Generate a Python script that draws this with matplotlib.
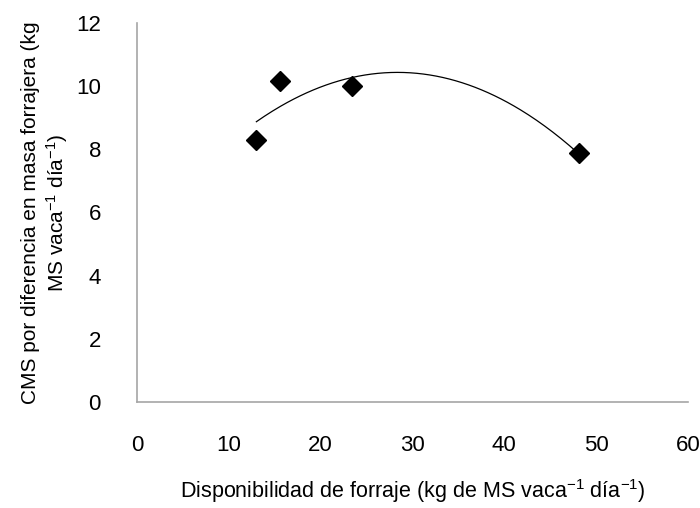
import numpy as np
import matplotlib.pyplot as plt

plt.rcParams["font.family"] = ["Liberation Sans", "DejaVu Sans"]
plt.rcParams["mathtext.fontset"] = "custom"
plt.rcParams["mathtext.rm"] = "Liberation Sans"
plt.rcParams["mathtext.it"] = "Liberation Sans:italic"
plt.rcParams["mathtext.default"] = "rm"

# Datos
disponibilidad = [13.0, 15.6, 23.45, 48.1]
cms = [8.31, 10.17, 10.01, 7.88]

xticks = [0, 10, 20, 30, 40, 50, 60]
yticks = [0, 2, 4, 6, 8, 10, 12]

# Línea de tendencia polinómica de orden 2 (como en Excel)
coef = np.polyfit(disponibilidad, cms, 2)
x_fit = np.linspace(min(disponibilidad), max(disponibilidad), 200)
y_fit = np.polyval(coef, x_fit)

fig = plt.figure(figsize=(7, 5.08), dpi=100)
ax = fig.add_axes([137/700, 1 - 402/508, (688 - 137)/700, (402 - 23)/508])

ax.plot(x_fit, y_fit, color="black", linewidth=0.9)
ax.plot(disponibilidad, cms, linestyle="none", marker="D", markersize=10,
        color="black")

ax.set_xlim(0, 60)
ax.set_ylim(0, 12)
ax.set_xticks(xticks)
ax.set_yticks(yticks)

ax.tick_params(length=0, labelsize=16)
ax.tick_params(axis="x", pad=24)
ax.tick_params(axis="y", pad=26)

for s in ["top", "right"]:
    ax.spines[s].set_visible(False)
for s in ["left", "bottom"]:
    ax.spines[s].set_color("#a6a6a6")
    ax.spines[s].set_linewidth(1.2)

ax.set_xlabel("Disponibilidad de forraje (kg de MS vaca$^{-1}$ día$^{-1}$)",
              fontsize=15.5, labelpad=15)
ax.set_ylabel("CMS por diferencia en masa forrajera (kg\nMS vaca$^{-1}$ día$^{-1}$)",
              fontsize=15, labelpad=4, linespacing=1.25)

fig.savefig("out.png", dpi=100)
